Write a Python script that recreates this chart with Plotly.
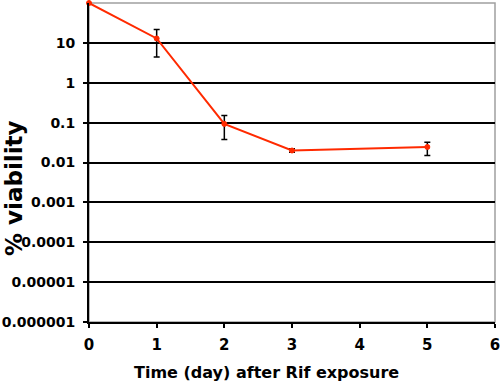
import plotly.graph_objects as go

days = [0, 1, 2, 3, 5]
viability = [100, 12.9, 0.093, 0.020, 0.0245]
err_plus = [0, 8.7, 0.057, 0.002, 0.0075]
err_minus = [0, 8.5, 0.055, 0.002, 0.0095]

ytick_vals = [10, 1, 0.1, 0.01, 0.001, 0.0001, 0.00001, 0.000001]
ytick_text = ["10", "1", "0.1", "0.01", "0.001", "0.0001", "0.00001", "0.000001"]
xtick_vals = [0, 1, 2, 3, 4, 5, 6]

FONT = "DejaVu Sans"

fig = go.Figure()
fig.add_trace(go.Scatter(
    x=days, y=viability, mode="lines+markers",
    line=dict(color="#ff2a00", width=2),
    marker=dict(size=5, color="#ff2a00", line=dict(color="#ff2a00", width=1)),
    error_y=dict(type="data", symmetric=False, array=err_plus, arrayminus=err_minus,
                 color="black", thickness=1.5, width=3),
    cliponaxis=False,
    showlegend=False,
))

fig.update_layout(
    width=500, height=385,
    margin=dict(l=89, r=5, t=3, b=63),
    paper_bgcolor="white", plot_bgcolor="white",
    font=dict(family=FONT, color="black"),
    shapes=[dict(type="rect", xref="x domain", yref="y domain", x0=0, x1=1, y0=0, y1=1,
                 line=dict(color="#a0a0a0", width=1.5), layer="below")],
    annotations=[
        dict(text="<b>Time (day) after Rif exposure</b>", xref="paper", yref="paper",
             x=(266.5 - 89) / (495 - 89), y=-(372 - 322) / (322 - 3), xanchor="center", yanchor="middle",
             showarrow=False, font=dict(family=FONT, size=16, color="black")),
        dict(text="<b>% viability</b>", xref="paper", yref="paper",
             x=-(89 - 14) / (495 - 89), y=(322 - 188) / (322 - 3), xanchor="center", yanchor="middle",
             textangle=-90, showarrow=False, font=dict(family=FONT, size=23, color="black")),
    ],
)
fig.update_xaxes(
    range=[0, 6], tickvals=xtick_vals, automargin=False,
    showgrid=False, zeroline=False,
    showline=True, linecolor="black", linewidth=2,
    ticks="outside", ticklen=4, tickwidth=1.5, tickcolor="black",
    ticklabelstandoff=4, ticklabeloverflow="allow",
    tickfont=dict(family=FONT, size=15, color="black", weight="bold"),
)
fig.update_yaxes(
    type="log", range=[-6, 2], automargin=False,
    tickvals=ytick_vals, ticktext=ytick_text,
    showgrid=True, gridcolor="black", gridwidth=2,
    zeroline=False,
    showline=True, linecolor="black", linewidth=2,
    ticks="outside", ticklen=4, tickwidth=1.5, tickcolor="black",
    ticklabelstandoff=5, ticklabeloverflow="allow",
    tickfont=dict(family=FONT, size=14, color="black", weight="bold"),
)

fig.write_html("out.html", config={"displayModeBar": False},
               post_script="document.body.style.margin='0';document.body.style.overflow='hidden';")
